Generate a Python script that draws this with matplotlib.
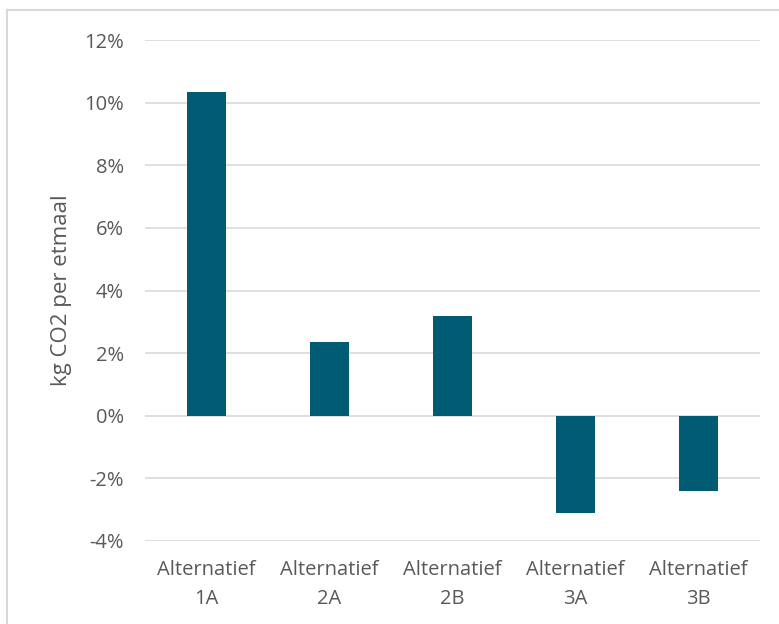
import matplotlib.pyplot as plt
from matplotlib.patches import Rectangle
from matplotlib.ticker import FuncFormatter

categories = ['Alternatief\n1A', 'Alternatief\n2A', 'Alternatief\n2B', 'Alternatief\n3A', 'Alternatief\n3B']
values = [10.35, 2.37, 3.2, -3.1, -2.4]  # percent
y_ticks = [-4, -2, 0, 2, 4, 6, 8, 10, 12]

BAR_COLOR = '#005B73'
TEXT_COLOR = '#595959'
GRID_COLOR = '#D9D9D9'

plt.rcParams['font.family'] = ['Open Sans', 'DejaVu Sans']

fig = plt.figure(figsize=(7.79, 6.24), dpi=100)
# outer chart border
fig.patches.append(Rectangle((7 / 779, -0.05), 1.05, 1 - 10 / 624 + 0.05,
                             transform=fig.transFigure, fill=False,
                             edgecolor=GRID_COLOR, linewidth=1.5))

ax = fig.add_axes([145 / 779, 1 - 541 / 624, 615 / 779, 501 / 624])
x = range(len(categories))
ax.bar(x, values, width=0.31, color=BAR_COLOR, zorder=3)

ax.set_xlim(-0.5, len(categories) - 0.5)
ax.set_ylim(-4, 12)
ax.set_yticks(y_ticks)
ax.yaxis.set_major_formatter(FuncFormatter(lambda v, p: f'{v:.0f}%'))
ax.set_xticks(list(x))
ax.set_xticklabels(categories, linespacing=1.6)
ax.grid(axis='y', color=GRID_COLOR, linewidth=1.2, zorder=0)
for s in ax.spines.values():
    s.set_visible(False)
ax.tick_params(axis='both', length=0, labelsize=14.5, labelcolor=TEXT_COLOR)
ax.tick_params(axis='y', pad=15)
ax.tick_params(axis='x', pad=14)
ax.set_ylabel('kg CO2 per etmaal', fontsize=16, color=TEXT_COLOR, labelpad=9)

fig.savefig('out.png', dpi=100)
